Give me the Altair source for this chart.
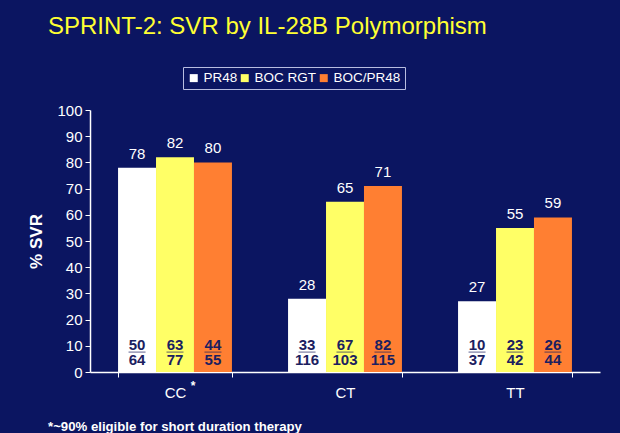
import altair as alt
import pandas as pd

categories = ["CC", "CT", "TT"]
treatments = ["PR48", "BOC RGT", "BOC/PR48"]
colors = ["#ffffff", "#ffff66", "#ff7f32"]
svr = [[78, 82, 80], [28, 65, 71], [27, 55, 59]]
responders = [[50, 63, 44], [33, 67, 82], [10, 23, 26]]
totals = [[64, 77, 55], [116, 103, 115], [37, 42, 44]]
y_ticks = [0, 10, 20, 30, 40, 50, 60, 70, 80, 90, 100]

rows = []
for i, c in enumerate(categories):
    for j, t in enumerate(treatments):
        rows.append({"cat": c, "treatment": t, "svr": svr[i][j],
                     "num": str(responders[i][j]), "den": str(totals[i][j])})
df = pd.DataFrame(rows)

BG = "#0b1561"
FONT = "Liberation Sans"
INK = "#1b2060"

x = alt.X("cat:N", sort=categories,
          scale=alt.Scale(paddingInner=0.33, paddingOuter=0.165),
          axis=alt.Axis(title=None, labelAngle=0, tickBand="extent", labelColor="white",
                        labelFontSize=15, labelFont=FONT, domainColor="white", tickColor="white",
                        tickSize=5, labelPadding=8, domainWidth=1.5))
xo = alt.XOffset("treatment:N", sort=treatments, scale=alt.Scale(paddingInner=0, paddingOuter=0))
yscale = alt.Scale(domain=[0, 100])
yaxis = alt.Axis(title="% SVR", values=y_ticks, grid=False, labelOverlap=False,
                 labelColor="white", labelFontSize=15, labelFont=FONT,
                 titleColor="white", titleFontSize=17, titleFont=FONT,
                 titleFontWeight="bold", titlePadding=11, domainColor="white",
                 tickColor="white", tickSize=5, labelPadding=3, domainWidth=1.5)

base = alt.Chart(df)

bars = base.mark_bar().encode(
    x=x, xOffset=xo,
    y=alt.Y("svr:Q", scale=yscale, axis=yaxis),
    color=alt.Color("treatment:N", sort=treatments,
                    scale=alt.Scale(domain=treatments, range=colors),
                    legend=alt.Legend(title=None, orient="none", direction="horizontal",
                                      legendX=93, legendY=-43, symbolType="square",
                                      symbolSize=64, symbolStrokeWidth=0, labelColor="white",
                                      labelFontSize=13.5, labelFont=FONT, strokeColor="#b8bde0",
                                      fillColor=BG, padding=4, columnPadding=0,
                                      labelOffset=3, cornerRadius=0)),
)

vals = base.mark_text(baseline="bottom", dy=-6, color="white", fontSize=15, font=FONT).encode(
    x=x, xOffset=xo, y=alt.Y("svr:Q", scale=yscale, axis=yaxis), text="svr:Q")

nums = base.mark_text(baseline="middle", dy=-27.5, color=INK, fontSize=15,
                      fontWeight="bold", font=FONT).encode(
    x=x, xOffset=xo, y=alt.datum(0, scale=yscale, axis=yaxis), text="num:N")

dens = base.mark_text(baseline="middle", dy=-12, color=INK, fontSize=15,
                      fontWeight="bold", font=FONT).encode(
    x=x, xOffset=xo, y=alt.datum(0, scale=yscale, axis=yaxis), text="den:N")

under = base.mark_tick(orient="horizontal", size=17, thickness=1, color=INK).encode(
    x=x, xOffset=xo, y=alt.datum(7.6, scale=yscale, axis=yaxis))

star = alt.Chart(pd.DataFrame({"cat": ["CC"], "s": ["*"]})).mark_text(
    color="white", fontSize=12, dx=18, dy=14, fontWeight="bold", font=FONT).encode(
    x=x, y=alt.datum(0, scale=yscale, axis=yaxis), text="s:N")

foot = alt.Chart(pd.DataFrame({"t": ["*~90% eligible for short duration therapy"]})).mark_text(
    color="white", fontSize=13.2, fontWeight="bold", align="left", baseline="middle", font=FONT).encode(
    x=alt.value(-42), y=alt.value(317), text="t:N")

chart = alt.layer(bars, vals, nums, dens, under, star, foot).properties(
    width=510, height=262,
    title=alt.TitleParams("SPRINT-2: SVR by IL-28B Polymorphism", color="#ffff33", fontSize=24,
                          font=FONT, fontWeight="normal", anchor="start", frame="group",
                          dx=-42, offset=28),
    autosize=alt.AutoSizeParams(type="none"),
    padding={"left": 90, "top": 110, "right": 20, "bottom": 61},
).configure(background=BG).configure_view(stroke=None)

chart.save("out.html", embed_options={"renderer": "svg", "actions": False})
